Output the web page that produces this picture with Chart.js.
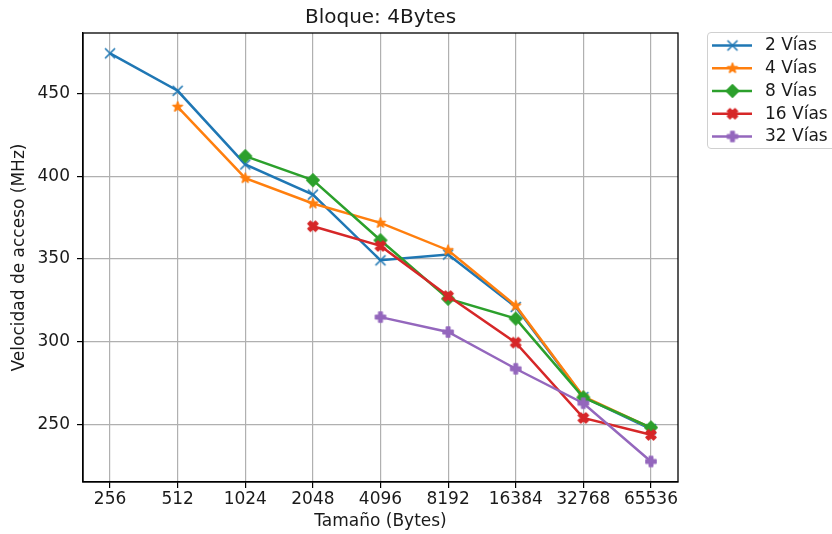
<!DOCTYPE html>
<html>
<head>
<meta charset="utf-8">
<title>Bloque: 4Bytes</title>
<script src="https://cdn.jsdelivr.net/npm/chart.js@4/dist/chart.umd.min.js"></script>
<style>
  html, body { margin: 0; padding: 0; background: #ffffff; }
  #wrap { width: 832px; height: 534px; }
</style>
</head>
<body>
<div id="wrap"><canvas id="chart" width="832" height="534"></canvas></div>
<script>
// Cache sizes (bytes) on the x axis
const categories = ['256', '512', '1024', '2048', '4096', '8192', '16384', '32768', '65536'];

// Access speed (MHz) per associativity; null = not measured
const via2  = [474.2, 451.6, 407.1, 388.9, 349.2, 352.7, 321.0, 266.6, 247.2];
const via4  = [null, 441.9, 398.8, 383.5, 371.8, 355.3, 321.8, 267.0, 248.0];
const via8  = [null, null, 412.1, 397.6, 361.3, 326.0, 314.0, 266.4, 248.2];
const via16 = [null, null, null, 369.8, 357.9, 327.6, 299.5, 254.0, 243.8];
const via32 = [null, null, null, null, 314.9, 305.9, 283.7, 262.9, 227.7];

const seriesLabels = ['2 Vías', '4 Vías', '8 Vías', '16 Vías', '32 Vías'];
const yTicks = [250, 300, 350, 400, 450];

const FONT = 'DejaVu Sans';
const TEXT = '#1a1a1a';
const COLORS = ['#1f77b4', '#ff7f0e', '#2ca02c', '#d62728', '#9467bd'];
const MARKERS = ['x', 'star', 'diamond', 'xfilled', 'plusfilled'];

// Build a small canvas holding one marker glyph
function makeMarker(type, color) {
  const S = 20, c = S / 2;
  const cv = document.createElement('canvas');
  cv.width = S; cv.height = S;
  const g = cv.getContext('2d');
  g.strokeStyle = color;
  g.fillStyle = color;
  g.lineWidth = 1.6;
  g.lineJoin = 'round';
  const r = 5;
  g.beginPath();
  if (type === 'x') {
    g.moveTo(c - r, c - r); g.lineTo(c + r, c + r);
    g.moveTo(c - r, c + r); g.lineTo(c + r, c - r);
    g.stroke();
    return cv;
  }
  if (type === 'star') {
    const inner = r * 0.381966;
    for (let i = 0; i < 10; i++) {
      const rad = i % 2 === 0 ? r : inner;
      const a = -Math.PI / 2 + i * Math.PI / 5;
      const px = c + rad * Math.cos(a), py = c + rad * Math.sin(a);
      if (i === 0) g.moveTo(px, py); else g.lineTo(px, py);
    }
  } else if (type === 'diamond') {
    const d = 6.2;
    g.moveTo(c, c - d); g.lineTo(c + d, c); g.lineTo(c, c + d); g.lineTo(c - d, c);
  } else if (type === 'xfilled') {
    const pts = [[-1,-2],[0,-1],[1,-2],[2,-1],[1,0],[2,1],[1,2],[0,1],[-1,2],[-2,1],[-1,0],[-2,-1]];
    pts.forEach((p, i) => {
      const px = c + p[0] / 4 * 2 * r, py = c + p[1] / 4 * 2 * r;
      if (i === 0) g.moveTo(px, py); else g.lineTo(px, py);
    });
  } else if (type === 'plusfilled') {
    const pts = [[-1,-3],[1,-3],[1,-1],[3,-1],[3,1],[1,1],[1,3],[-1,3],[-1,1],[-3,1],[-3,-1],[-1,-1]];
    pts.forEach((p, i) => {
      const px = c + p[0] / 6 * 2 * r, py = c + p[1] / 6 * 2 * r;
      if (i === 0) g.moveTo(px, py); else g.lineTo(px, py);
    });
  }
  g.closePath();
  g.fill();
  g.stroke();
  return cv;
}

function toPoints(values) {
  const pts = [];
  values.forEach((v, i) => { if (v !== null) pts.push({ x: i, y: v }); });
  return pts;
}

const allSeries = [via2, via4, via8, via16, via32];
const datasets = allSeries.map((values, i) => ({
  label: seriesLabels[i],
  data: toPoints(values),
  borderColor: COLORS[i],
  backgroundColor: COLORS[i],
  borderWidth: 2.5,
  pointStyle: makeMarker(MARKERS[i], COLORS[i]),
  pointRadius: 6,
  tension: 0,
  fill: false,
  order: allSeries.length - i   // later series are painted above earlier ones
}));

// Four-sided frame around the plotting area
const frame = {
  id: 'frame',
  afterDatasetsDraw(chart) {
    const { ctx, chartArea: a } = chart;
    ctx.save();
    ctx.strokeStyle = '#000';
    ctx.lineWidth = 1.3;
    ctx.strokeRect(a.left, a.top, a.right - a.left, a.bottom - a.top);
    ctx.restore();
  }
};

// Legend placed outside the axes, to the upper right
const sideLegend = {
  id: 'sideLegend',
  afterDraw(chart) {
    const { ctx, chartArea: a } = chart;
    const x0 = a.right + 29.5, y0 = 32.5, w = 150, h = 116;
    const rowH = 22.75, firstY = 45.5;
    ctx.save();
    ctx.beginPath();
    ctx.roundRect(x0, y0, w, h, 3.5);
    ctx.fillStyle = 'rgba(255,255,255,0.8)';
    ctx.fill();
    ctx.strokeStyle = '#d0d0d0';
    ctx.lineWidth = 1;
    ctx.stroke();
    chart.data.datasets.forEach((ds, i) => {
      const y = firstY + i * rowH;
      ctx.beginPath();
      ctx.strokeStyle = ds.borderColor;
      ctx.lineWidth = ds.borderWidth;
      ctx.moveTo(x0 + 4.5, y);
      ctx.lineTo(x0 + 44.5, y);
      ctx.stroke();
      const m = ds.pointStyle;
      ctx.drawImage(m, x0 + 25 - m.width / 2, y - m.height / 2);
      ctx.fillStyle = TEXT;
      ctx.font = '17px "' + FONT + '"';
      ctx.textBaseline = 'middle';
      ctx.textAlign = 'left';
      ctx.fillText(ds.label, x0 + 57.5, y + 0.5);
    });
    ctx.restore();
  }
};

new Chart(document.getElementById('chart'), {
  type: 'line',
  data: { datasets },
  plugins: [frame, sideLegend],
  options: {
    responsive: false,
    animation: false,
    devicePixelRatio: 1,
    layout: { padding: { top: 0, right: 154, bottom: 0, left: 0 } },
    plugins: {
      legend: { display: false },
      tooltip: { enabled: false },
      title: {
        display: true,
        text: 'Bloque: 4Bytes',
        fullSize: false,
        color: TEXT,
        font: { family: FONT, size: 20, weight: 'normal' },
        padding: { top: 6, bottom: 3 }
      }
    },
    scales: {
      x: {
        type: 'linear',
        min: -0.4,
        max: 8.4,
        afterBuildTicks: (scale) => { scale.ticks = categories.map((_, i) => ({ value: i })); },
        afterFit: (scale) => { scale.height = 52; },
        ticks: {
          autoSkip: false,
          maxRotation: 0,
          padding: 1,
          color: TEXT,
          font: { family: FONT, size: 17 },
          callback: (v) => categories[v]
        },
        grid: { color: '#b0b0b0', lineWidth: 1.2, tickLength: 6, tickColor: '#000', tickWidth: 1.2 },
        border: { display: true, color: '#000', width: 1.3 },
        title: {
          display: true,
          text: 'Tamaño (Bytes)',
          color: TEXT,
          font: { family: FONT, size: 17 },
          padding: { top: 0, bottom: 2 }
        }
      },
      y: {
        min: 215.3,
        max: 486.5,
        afterBuildTicks: (scale) => { scale.ticks = yTicks.map(v => ({ value: v })); },
        afterFit: (scale) => { scale.width = 83; },
        ticks: {
          padding: 7,
          color: TEXT,
          font: { family: FONT, size: 17 }
        },
        grid: { color: '#b0b0b0', lineWidth: 1.2, tickLength: 6, tickColor: '#000', tickWidth: 1.2 },
        border: { display: true, color: '#000', width: 1.3 },
        title: {
          display: true,
          text: 'Velocidad de acceso (MHz)',
          color: TEXT,
          font: { family: FONT, size: 17 },
          padding: { top: 9, bottom: 0 }
        }
      }
    }
  }
});
</script>
</body>
</html>
